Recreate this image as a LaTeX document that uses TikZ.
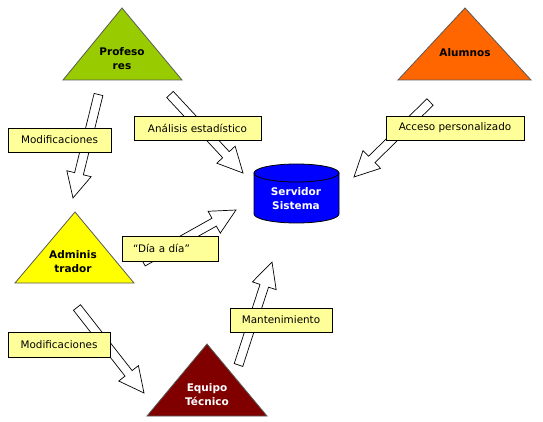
\documentclass[tikz,border=0pt]{standalone}
\usepackage{fontspec}
\setmainfont{DejaVu Sans}
\usetikzlibrary{calc}
\definecolor{labelfill}{HTML}{FFFF99}
\definecolor{profc}{HTML}{99CC00}
\definecolor{alumc}{HTML}{FF6600}
\definecolor{adminc}{HTML}{FFFF00}
\definecolor{equipc}{HTML}{800000}
\definecolor{servc}{HTML}{0000FF}
\tikzset{
 lbl/.style={draw=black, fill=labelfill, minimum height=24pt, inner sep=0pt, font=\fontsize{10.4}{12}\selectfont, line width=0.8pt},
 tri/.style={draw=black!65, line width=0.8pt},
 ttext/.style={font=\bfseries\fontsize{10.5}{14}\selectfont, align=center, inner sep=0pt},
 barrow/.style={draw=black, fill=white, line width=0.7pt, line join=miter},
}
\newcommand\blockarrow[2]{%
  \coordinate (hb) at ($(#2)!25pt!(#1)$);
  \draw[barrow] ($(#1)!4.5pt!90:(#2)$) -- ($(hb)!4.5pt!90:(#2)$) -- ($(hb)!12.5pt!90:(#2)$) -- (#2)
   -- ($(hb)!12.5pt!-90:(#2)$) -- ($(hb)!4.5pt!-90:(#2)$) -- ($(#1)!4.5pt!-90:(#2)$) -- cycle;}
\begin{document}
\begin{tikzpicture}[x=1pt,y=-1pt]
\useasboundingbox (0,0) rectangle (543,422);
% triangles
\draw[tri, fill=profc] (63,80) -- (122,8) -- (182,80) -- cycle;
\node[ttext] (prof) at (122,59) {Profeso\\res};
\draw[tri, fill=alumc] (398,80) -- (465,8) -- (531,80) -- cycle;
\node[ttext] (alum) at (465,53) {Alumnos};
\draw[tri, fill=adminc] (15,283) -- (75,212) -- (134,283) -- cycle;
\node[ttext] (admin) at (73,262) {Adminis\\trador};
\draw[tri, fill=equipc] (147,416) -- (207,344) -- (267,416) -- cycle;
\node[ttext, text=white] (equip) at (207,395) {Equipo\\Técnico};
% cylinder
\draw[fill=servc, line width=0.8pt] (254,173) -- (254,214) arc[start angle=180, end angle=0, x radius=42.5, y radius=9] -- (339,173) -- cycle;
\draw[fill=servc, line width=0.8pt] (296.5,173) ellipse[x radius=42.5, y radius=9];
\node[ttext, text=white] (serv) at (296,199) {Servidor\\Sistema};
% arrow end points
\coordinate (a1t) at (98.5,94.5); \coordinate (a1h) at (73,198);
\coordinate (a2t) at (170,94.5); \coordinate (a2h) at (243,173);
\coordinate (a3t) at (430,102); \coordinate (a3h) at (354,177);
\coordinate (a4t) at (143,262); \coordinate (a4h) at (236,210);
\coordinate (a5t) at (77,307.5); \coordinate (a5h) at (144,393);
\coordinate (a6t) at (238.5,365); \coordinate (a6h) at (272,262);
\blockarrow{a1t}{a1h}
\blockarrow{a2t}{a2h}
\blockarrow{a3t}{a3h}
\blockarrow{a4t}{a4h}
\blockarrow{a5t}{a5h}
\blockarrow{a6t}{a6h}
% labels
\node[lbl, minimum width=103pt] (lmoda) at (59.5,140) {Modificaciones};
\node[lbl, minimum width=127pt] (lanal) at (197.5,128) {Análisis estadístico};
\node[lbl, minimum width=138pt] (lacc) at (455,128) {Acceso personalizado};
\node[lbl, minimum height=25pt, inner xsep=11pt, text width=74pt, align=left] (ldia) at (170,248.5) {“Día a día”};
\node[lbl, minimum width=102pt] (lmant) at (281,320) {Mantenimiento};
\node[lbl, minimum width=102pt, minimum height=25pt] (lmodb) at (59,344.5) {Modificaciones};
\end{tikzpicture}
\end{document}
